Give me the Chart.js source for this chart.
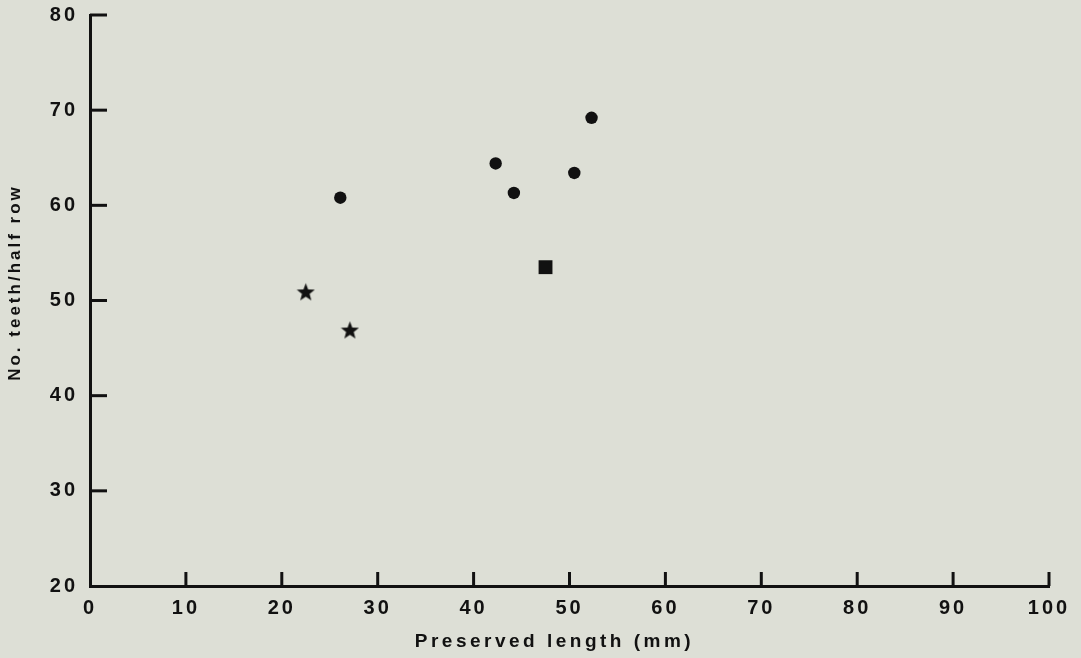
<!DOCTYPE html>
<html>
<head>
<meta charset="utf-8">
<script src="https://cdn.jsdelivr.net/npm/chart.js@4"></script>
<style>
  html, body { margin: 0; padding: 0; background: #dddfd6; }
  #wrap { width: 1081px; height: 658px; }
</style>
</head>
<body>
<div id="wrap"><canvas id="c"></canvas></div>
<script>
// data
const circleX = [26.1, 42.3, 44.2, 50.5, 52.3];
const circleY = [60.8, 64.4, 61.3, 63.4, 69.2];
const squareX = [47.5];
const squareY = [53.5];
const starX = [22.5, 27.1];
const starY = [50.9, 46.9];

const xTicks = [0, 10, 20, 30, 40, 50, 60, 70, 80, 90, 100];
const yTicks = [20, 30, 40, 50, 60, 70, 80];
const xTitle = 'Preserved length (mm)';
const yTitle = 'No. teeth/half row';

const ink = '#111111';
const family = 'Liberation Sans, Arial, sans-serif';
const font = { family: family, size: 20, weight: 'bold' };

function pts(xs, ys) { return xs.map((x, i) => ({ x: x, y: ys[i] })); }

// filled five point star marker
function starCanvas(size) {
  const cv = document.createElement('canvas');
  cv.width = size; cv.height = size;
  const g = cv.getContext('2d');
  const cx = size / 2, cy = size / 2 + 0.8, R = size / 2, r = R * 0.42;
  g.beginPath();
  for (let i = 0; i < 10; i++) {
    const a = -Math.PI / 2 + i * Math.PI / 5;
    const rr = i % 2 ? r : R;
    g.lineTo(cx + rr * Math.cos(a), cy + rr * Math.sin(a));
  }
  g.closePath();
  g.fillStyle = ink;
  g.fill();
  return cv;
}

// the printed figure uses wide letter spacing
const spacing = {
  id: 'spacing',
  beforeDraw(chart) { chart.ctx.letterSpacing = '3px'; }
};

// tick marks pointing into the plot, plus the axis titles (sit a bit off centre in the original)
const innerTicks = {
  id: 'innerTicks',
  afterDraw(chart) {
    const { ctx, chartArea, scales: { x, y } } = chart;
    ctx.save();
    ctx.strokeStyle = ink;
    ctx.lineWidth = 3;
    yTicks.forEach(v => {
      if (v === 20) return;
      const py = y.getPixelForValue(v);
      ctx.beginPath();
      ctx.moveTo(x.left, py);
      ctx.lineTo(x.left + 17, py);
      ctx.stroke();
    });
    xTicks.forEach(v => {
      if (v === 0) return;
      const px = x.getPixelForValue(v);
      ctx.beginPath();
      ctx.moveTo(px, y.bottom);
      ctx.lineTo(px, y.bottom - 14);
      ctx.stroke();
    });

    ctx.fillStyle = ink;
    ctx.textAlign = 'center';
    ctx.textBaseline = 'middle';
    ctx.letterSpacing = '3.5px';
    ctx.font = 'bold 19px ' + family;
    ctx.fillText(xTitle, (chartArea.left + chartArea.right) / 2 - 15, 642);
    ctx.translate(15, (chartArea.top + chartArea.bottom) / 2 - 18);
    ctx.rotate(-Math.PI / 2);
    ctx.letterSpacing = '3px';
    ctx.font = 'bold 17px ' + family;
    ctx.fillText(yTitle, 0, 0);
    ctx.restore();
  }
};

new Chart(document.getElementById('c'), {
  type: 'scatter',
  data: {
    datasets: [
      { data: pts(circleX, circleY), pointStyle: 'circle', pointRadius: 6.2,
        backgroundColor: ink, borderColor: ink, borderWidth: 0 },
      { data: pts(squareX, squareY), pointStyle: 'rect', pointRadius: 9.8,
        backgroundColor: ink, borderColor: ink, borderWidth: 0 },
      { data: pts(starX, starY), pointStyle: starCanvas(19), pointRadius: 9.5 }
    ]
  },
  options: {
    responsive: true,
    maintainAspectRatio: false,
    animation: false,
    layout: { padding: { top: 15, right: 32, left: 0, bottom: 0 } },
    plugins: { legend: { display: false }, tooltip: { enabled: false } },
    scales: {
      x: {
        type: 'linear', min: 0, max: 100,
        afterBuildTicks: s => { s.ticks = xTicks.map(v => ({ value: v })); },
        afterFit: s => { s.height = 72; s.paddingLeft = 0; s.paddingRight = 0; },
        grid: { display: false, drawTicks: false },
        border: { display: true, color: ink, width: 3 },
        ticks: { color: ink, font: font, padding: 10, maxRotation: 0 },
        title: { display: false }
      },
      y: {
        type: 'linear', min: 20, max: 80,
        afterBuildTicks: s => { s.ticks = yTicks.map(v => ({ value: v })); },
        afterFit: s => { s.width = 90; s.paddingTop = 0; s.paddingBottom = 0; },
        grid: { display: false, drawTicks: false },
        border: { display: true, color: ink, width: 3 },
        ticks: { color: ink, font: font, padding: 12 },
        title: { display: false }
      }
    }
  },
  plugins: [spacing, innerTicks]
});
</script>
</body>
</html>
